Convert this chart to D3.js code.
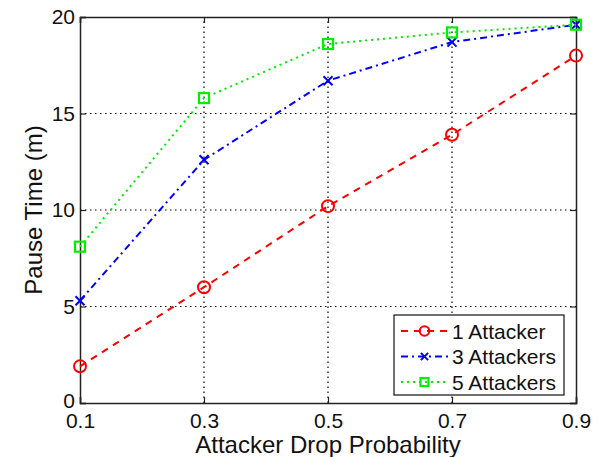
<!DOCTYPE html>
<html>
<head>
<meta charset="utf-8">
<script src="https://cdn.jsdelivr.net/npm/d3@7"></script>
<style>
  html, body { margin: 0; padding: 0; background: #fff; }
  svg { display: block; font-family: Arial, "Liberation Sans", sans-serif; }
</style>
</head>
<body>
<svg id="chart" width="604" height="457"></svg>
<script>
// Attacker drop probability on the x axis
const dropProb = [0.1, 0.3, 0.5, 0.7, 0.9];
const xTicks = [0.1, 0.3, 0.5, 0.7, 0.9];
const yTicks = [0, 5, 10, 15, 20];

// Pause time (minutes) for each attacker count
const oneAttacker    = [1.9, 6.0, 10.2, 13.9, 18.0];
const threeAttackers = [5.3, 12.6, 16.7, 18.7, 19.6];
const fiveAttackers  = [8.1, 15.8, 18.6, 19.2, 19.6];

const seriesNames = ["1 Attacker", "3 Attackers", "5 Attackers"];

const series = [
  { name: seriesNames[0], values: oneAttacker,    color: "#ff0000", dash: "7,6",      marker: "circle" },
  { name: seriesNames[1], values: threeAttackers, color: "#0000ff", dash: "7,4,2,4",  marker: "x" },
  { name: seriesNames[2], values: fiveAttackers,  color: "#00ee00", dash: "2,4",      marker: "square" }
];

const svg = d3.select("#chart");
const margin = { left: 80, right: 28, top: 17, bottom: 54 };
const W = 604, H = 457;
const x = d3.scaleLinear().domain([0.1, 0.9]).range([margin.left, W - margin.right]);
const y = d3.scaleLinear().domain([0, 20]).range([H - margin.bottom, margin.top]);
const x0 = x.range()[0], x1 = x.range()[1], y0 = y.range()[0], y1 = y.range()[1];

// grid
const grid = svg.append("g").attr("stroke", "#000").attr("stroke-width", 1.2)
  .attr("stroke-dasharray", "1.5,3.5");
grid.selectAll(".gx").data(xTicks.slice(1, -1)).join("line")
  .attr("x1", d => x(d)).attr("x2", d => x(d)).attr("y1", y0).attr("y2", y1);
grid.selectAll(".gy").data(yTicks.slice(1, -1)).join("line")
  .attr("y1", d => y(d)).attr("y2", d => y(d)).attr("x1", x0).attr("x2", x1);

// axes (ticks point inward, box on)
const tickLen = 6;
const axColor = "#222";
const xAxis = d3.axisBottom(x).tickValues(xTicks).tickSize(-tickLen).tickPadding(10)
  .tickFormat(d3.format(".1f"));
const yAxis = d3.axisLeft(y).tickValues(yTicks).tickSize(-tickLen).tickPadding(5)
  .tickFormat(d3.format("d"));
const gx = svg.append("g").attr("transform", `translate(0,${y0})`).call(xAxis);
const gy = svg.append("g").attr("transform", `translate(${x0},0)`).call(yAxis);
const gxTop = svg.append("g").attr("transform", `translate(0,${y1})`)
  .call(d3.axisTop(x).tickValues(xTicks).tickSize(-tickLen).tickFormat(""));
const gyRight = svg.append("g").attr("transform", `translate(${x1},0)`)
  .call(d3.axisRight(y).tickValues(yTicks).tickSize(-tickLen).tickFormat(""));
[gx, gy, gxTop, gyRight].forEach(g => {
  g.select(".domain").attr("stroke", axColor).attr("stroke-width", 1.5);
  g.selectAll(".tick line").attr("stroke", axColor).attr("stroke-width", 1.2);
  g.selectAll(".tick text").attr("fill", "#111").attr("font-size", 21)
    .attr("font-family", "Arial, 'Liberation Sans', sans-serif");
});
// lift the bottom "0" slightly so it clears the first x label
gy.selectAll(".tick text").filter(d => d === 0).attr("dy", "0.2em");

// axis titles
svg.append("text").attr("x", (x0 + x1) / 2).attr("y", 453)
  .attr("text-anchor", "middle").attr("font-size", 24).attr("fill", "#111")
  .text("Attacker Drop Probability");
svg.append("text").attr("transform", `translate(42,${(y0 + y1) / 2}) rotate(-90)`)
  .attr("text-anchor", "middle").attr("font-size", 24).attr("fill", "#111")
  .text("Pause Time (m)");

// markers
function drawMarker(g, type, color, cx, cy, scale = 1) {
  if (type === "circle") {
    g.append("circle").attr("cx", cx).attr("cy", cy).attr("r", 6 * scale)
      .attr("fill", "none").attr("stroke", color).attr("stroke-width", 2);
  } else if (type === "x") {
    const s = 4.5 * scale;
    g.append("path").attr("d", `M${cx - s},${cy - s}L${cx + s},${cy + s}M${cx - s},${cy + s}L${cx + s},${cy - s}`)
      .attr("stroke", color).attr("stroke-width", 2).attr("fill", "none");
  } else {
    const s = 5 * scale;
    g.append("rect").attr("x", cx - s).attr("y", cy - s).attr("width", 2 * s).attr("height", 2 * s)
      .attr("fill", "none").attr("stroke", color).attr("stroke-width", 2.2);
  }
}

const line = d3.line().x((d, i) => x(dropProb[i])).y(d => y(d));
series.forEach(s => {
  const g = svg.append("g");
  g.append("path").attr("d", line(s.values)).attr("fill", "none")
    .attr("stroke", s.color).attr("stroke-width", 2).attr("stroke-dasharray", s.dash);
  s.values.forEach((v, i) => drawMarker(g, s.marker, s.color, x(dropProb[i]), y(v)));
});

// legend
const lg = svg.append("g");
lg.append("rect").attr("x", 394).attr("y", 315).attr("width", 170).attr("height", 80)
  .attr("fill", "#fff").attr("stroke", "#111").attr("stroke-width", 1.2);
series.forEach((s, i) => {
  const cy = 331 + i * 25.5;
  lg.append("line").attr("x1", 401).attr("x2", 448).attr("y1", cy).attr("y2", cy)
    .attr("stroke", s.color).attr("stroke-width", 2).attr("stroke-dasharray", s.dash);
  drawMarker(lg, s.marker, s.color, 424.5, cy, 0.8);
  lg.append("text").attr("x", 452).attr("y", cy).attr("dy", "0.36em")
    .attr("font-size", 21).attr("fill", "#111").text(s.name);
});
</script>
</body>
</html>
